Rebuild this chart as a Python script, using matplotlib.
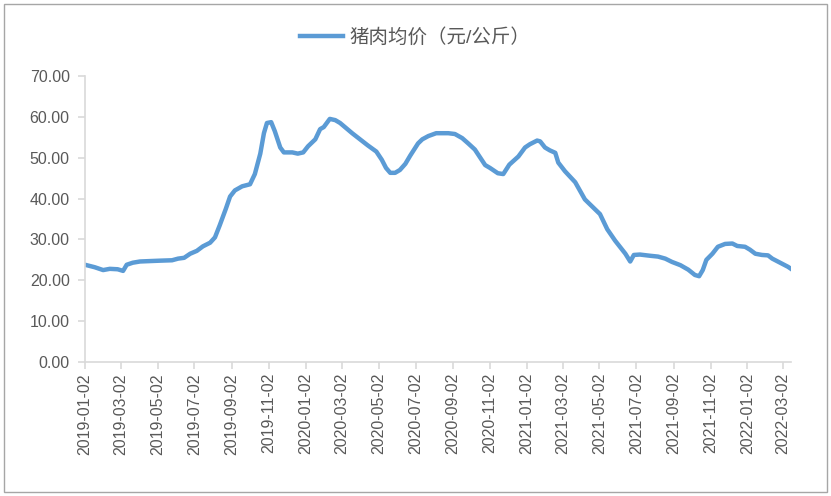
import numpy as np
import pandas as pd
import matplotlib
matplotlib.use("Agg")
import matplotlib.pyplot as plt
import matplotlib.dates as mdates
from matplotlib.patches import Rectangle

plt.rcParams['font.family'] = ['Liberation Sans', 'Noto Sans CJK SC', 'DejaVu Sans']

# pork price
dates = ["2019-01-02", "2019-01-18", "2019-02-01", "2019-02-12", "2019-02-25", "2019-03-06",
         "2019-03-12", "2019-03-22", "2019-04-03", "2019-04-19", "2019-05-06", "2019-05-26",
         "2019-06-05", "2019-06-15", "2019-06-25", "2019-07-06", "2019-07-16", "2019-07-28",
         "2019-08-05", "2019-08-13", "2019-08-23", "2019-08-30", "2019-09-07", "2019-09-19",
         "2019-10-02", "2019-10-10", "2019-10-19", "2019-10-25", "2019-10-30", "2019-11-06",
         "2019-11-12", "2019-11-21", "2019-11-27", "2019-12-11", "2019-12-20", "2019-12-29",
         "2020-01-06", "2020-01-18", "2020-01-26", "2020-02-01", "2020-02-11", "2020-02-20",
         "2020-02-28", "2020-03-07", "2020-03-19", "2020-04-01", "2020-04-14", "2020-04-28",
         "2020-05-07", "2020-05-14", "2020-05-21", "2020-05-29", "2020-06-06", "2020-06-15",
         "2020-06-23", "2020-07-06", "2020-07-13", "2020-07-23", "2020-08-05", "2020-08-25",
         "2020-09-05", "2020-09-17", "2020-09-27", "2020-10-08", "2020-10-25", "2020-11-02",
         "2020-11-15", "2020-11-24", "2020-12-04", "2020-12-19", "2020-12-30", "2021-01-07",
         "2021-01-19", "2021-01-24", "2021-02-01", "2021-02-09", "2021-02-18", "2021-02-23",
         "2021-03-06", "2021-03-23", "2021-04-08", "2021-04-17", "2021-05-03", "2021-05-15",
         "2021-05-28", "2021-06-14", "2021-06-22", "2021-06-28", "2021-07-08", "2021-07-25",
         "2021-08-07", "2021-08-19", "2021-08-30", "2021-09-13", "2021-09-26", "2021-10-07",
         "2021-10-14", "2021-10-20", "2021-10-26", "2021-11-05", "2021-11-14", "2021-11-26",
         "2021-12-08", "2021-12-16", "2021-12-29", "2022-01-06", "2022-01-15", "2022-01-26",
         "2022-02-05", "2022-02-12", "2022-02-25", "2022-03-10", "2022-03-15"]
prices = [23.8, 23.2, 22.5, 22.8, 22.7, 22.3,
          23.8, 24.3, 24.6, 24.7, 24.8, 24.9,
          25.3, 25.5, 26.5, 27.2, 28.3, 29.2,
          30.5, 33.5, 37.5, 40.5, 42.0, 43.0,
          43.5, 46.0, 51.0, 56.0, 58.5, 58.7,
          56.5, 52.5, 51.3, 51.3, 51.0, 51.3,
          52.8, 54.5, 57.0, 57.5, 59.5, 59.2,
          58.5, 57.5, 56.0, 54.5, 53.0, 51.5,
          49.5, 47.5, 46.3, 46.3, 47.0, 48.5,
          50.5, 53.5, 54.5, 55.3, 56.0, 56.0,
          55.8, 54.8, 53.5, 52.0, 48.2, 47.5,
          46.2, 46.0, 48.3, 50.3, 52.5, 53.3,
          54.2, 54.0, 52.5, 51.8, 51.2, 48.8,
          46.7, 44.0, 39.8, 38.5, 36.2, 32.5,
          29.7, 26.5, 24.6, 26.2, 26.3, 26.0,
          25.8, 25.3, 24.5, 23.7, 22.6, 21.3,
          21.0, 22.5, 25.0, 26.5, 28.2, 28.9,
          29.0, 28.4, 28.2, 27.5, 26.5, 26.2,
          26.1, 25.3, 24.3, 23.3, 22.8]
series_name = "猪肉均价（元/公斤）"

x = pd.to_datetime(dates)
gray = "#595959"
axis_c = "#d9d9d9"

fig = plt.figure(figsize=(8.31, 4.96), dpi=100)
ax = fig.add_axes([85 / 831, 1 - 362 / 496, (791 - 85) / 831, (362 - 76) / 496])

ax.plot(x, prices, color="#5b9bd5", lw=3.2, solid_joinstyle="round", label=series_name)

ax.set_ylim(0, 70)
ax.set_yticks(np.arange(0, 71, 10))
ax.yaxis.set_major_formatter(matplotlib.ticker.FormatStrFormatter("%.2f"))
ax.set_xlim(pd.Timestamp("2019-01-02"), pd.Timestamp("2022-03-15"))
ax.xaxis.set_major_locator(mdates.MonthLocator(bymonth=range(1, 13, 2), bymonthday=2))
ax.xaxis.set_major_formatter(mdates.DateFormatter("%Y-%m-%d"))

for s in ["top", "right"]:
    ax.spines[s].set_visible(False)
for s in ["left", "bottom"]:
    ax.spines[s].set_color(axis_c)
    ax.spines[s].set_linewidth(1.2)
ax.tick_params(axis="both", colors=axis_c, length=5, width=1.2, labelcolor=gray, labelsize=11.5)
ax.tick_params(axis="x", rotation=90, pad=3)
ax.tick_params(axis="y", pad=6)

leg = fig.legend(loc="center", bbox_to_anchor=(0.5, 1 - 37 / 496), frameon=False,
                 fontsize=14, handlelength=2.2, handletextpad=0.35)
for t in leg.get_texts():
    t.set_color(gray)

fig.patches.append(Rectangle((4 / 831, 4 / 496), 823 / 831, 488 / 496, transform=fig.transFigure,
                             fill=False, edgecolor="#a6a6a6", lw=1))

fig.savefig("out.png", dpi=100)
